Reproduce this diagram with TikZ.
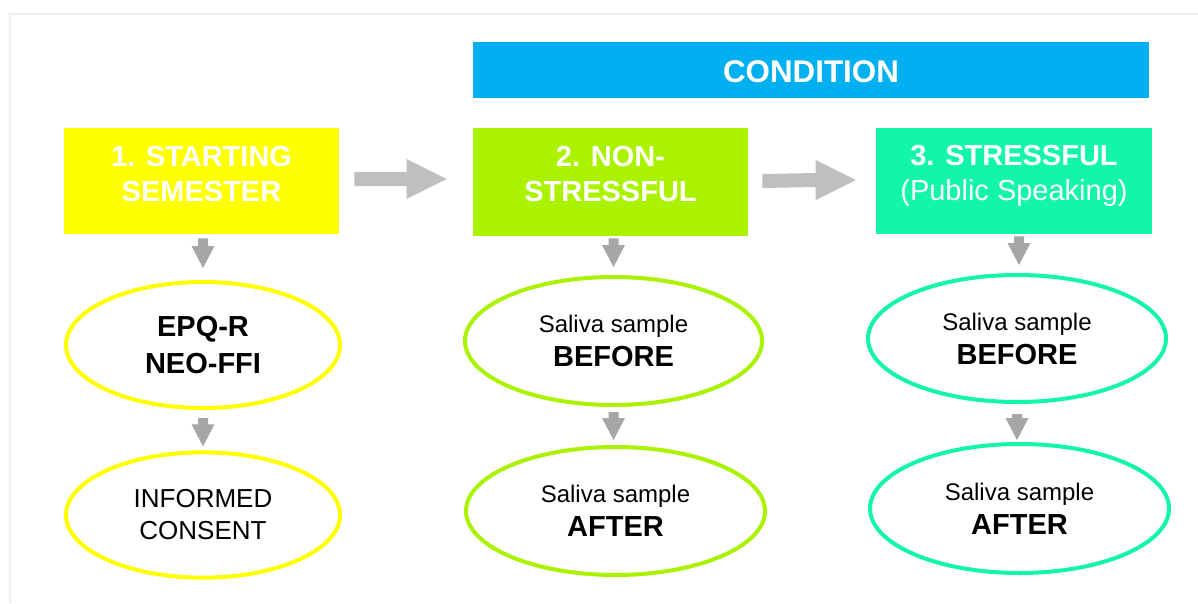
\documentclass[tikz,border=0pt]{standalone}
\usepackage{fontspec}
\setmainfont{Liberation Sans}
\usetikzlibrary{calc,shapes.geometric}
\definecolor{cyel}{HTML}{FFFF00}
\definecolor{cgrn}{HTML}{AAF200}
\definecolor{cteal}{HTML}{12F5AA}
\definecolor{cblue}{HTML}{00B0F0}
\definecolor{cbig}{HTML}{BFBFBF}
\definecolor{csmall}{HTML}{A6A6A6}
\definecolor{cframe}{HTML}{EEEEEE}
\newcommand\dnarrow[2]{%
  \fill[smallarr] ($(#1)+(-5,0)$) -- ($(#2)+(-5,-22)$) -- ($(#2)+(-11.5,-22)$) -- (#2)
    -- ($(#2)+(11.5,-22)$) -- ($(#2)+(5,-22)$) -- ($(#1)+(5,0)$) -- cycle;}
\newcommand\rtarrow[2]{%
  \fill[bigarr] ($(#1)+(0,-7)$) -- ($(#2)+(-40,-7)$) -- ($(#2)+(-40,-20)$) -- (#2)
    -- ($(#2)+(-40,20)$) -- ($(#2)+(-40,7)$) -- ($(#1)+(0,7)$) -- cycle;}
\tikzset{
  boxbase/.style={rectangle, inner sep=0pt, minimum width=206.5pt},
  titletext/.style={text=white, align=center, inner sep=0pt,
    font=\fontsize{21.75}{26.25}\selectfont},
  ovalbase/.style={ellipse, draw, line width=3pt, fill=white, inner sep=0pt,
    align=center, text=black},
  bigarr/.style={fill=cbig},
  smallarr/.style={fill=csmall},
}
\begin{document}
\begin{tikzpicture}[x=0.75pt,y=-0.75pt]
\useasboundingbox (0,0) rectangle (1198,603);
\draw[cframe, line width=1.5pt] (10,603) -- (10,14) -- (1198,14);

% condition bar
\node[rectangle, fill=cblue, minimum width=507pt, minimum height=42pt, inner sep=0pt] (cond) at (811,70) {};
\node[text=white, inner sep=0pt, font=\fontsize{23.5}{28}\selectfont\bfseries] (condt) at ($(cond.center)+(0,1.5)$) {CONDITION};

% top boxes
\node[boxbase, fill=cyel, minimum height=79.5pt] (b1) at (201.5,181) {};
\node[boxbase, fill=cgrn, minimum height=81pt] (b2) at (610.5,182) {};
\node[boxbase, fill=cteal, minimum width=207pt, minimum height=79.5pt] (b3) at (1014,181) {};
\node[titletext, font=\fontsize{21.75}{26.25}\selectfont\bfseries] (t1) at ($(b1.center)+(0,-7)$) {1. STARTING\\SEMESTER};
\node[titletext, font=\fontsize{21.75}{26.25}\selectfont\bfseries] (t2) at ($(b2.center)+(0,-8)$) {2. NON-\\STRESSFUL};
\node[titletext] (t3) at ($(b3.center)+(0,-5)$) {\textbf{3. STRESSFUL}\\(Public Speaking)};

% ellipses column 1
\node[ovalbase, draw=cyel, minimum width=205.5pt, minimum height=94.5pt,
  font=\fontsize{21.75}{27.75}\selectfont\bfseries] (e11) at (203,345) {EPQ-R\\NEO-FFI};
\node[ovalbase, draw=cyel, minimum width=205.5pt, minimum height=94pt,
  font=\fontsize{19.5}{24}\selectfont] (e12) at (203,515) {INFORMED\\CONSENT};

% ellipses column 2
\node[ovalbase, draw=cgrn, minimum width=222.75pt, minimum height=96pt,
  font=\fontsize{18}{25.5}\selectfont] (e21) at (613.5,341)
  {Saliva sample\\{\fontsize{21.75}{25.5}\selectfont\bfseries BEFORE}};
\node[ovalbase, draw=cgrn, minimum width=224.25pt, minimum height=96pt,
  font=\fontsize{18}{25.5}\selectfont] (e22) at (615.5,511)
  {Saliva sample\\{\fontsize{21.75}{25.5}\selectfont\bfseries AFTER}};

% ellipses column 3
\node[ovalbase, draw=cteal, minimum width=223.5pt, minimum height=95.25pt,
  font=\fontsize{18}{25.5}\selectfont] (e31) at (1017,338.5)
  {Saliva sample\\{\fontsize{21.75}{25.5}\selectfont\bfseries BEFORE}};
\node[ovalbase, draw=cteal, minimum width=224.25pt, minimum height=96.75pt,
  font=\fontsize{18}{25.5}\selectfont] (e32) at (1019.5,508.5)
  {Saliva sample\\{\fontsize{21.75}{25.5}\selectfont\bfseries AFTER}};

% horizontal arrows
\coordinate (a1s) at ($(b1.east)+(15,-2)$);
\coordinate (a1t) at ($(b2.west)+(-26,-3)$);
\rtarrow{a1s}{a1t}
\coordinate (a2s) at ($(b2.east)+(14,-1)$);
\coordinate (a2t) at ($(b3.west)+(-20,-1)$);
\rtarrow{a2s}{a2t}

% down arrows
\coordinate (s11) at ($(e11.north |- b1.south)+(0,4)$);
\coordinate (t11) at ($(e11.north)+(0,-12)$);
\dnarrow{s11}{t11}
\coordinate (s12) at ($(e11.south)+(0,8)$);
\coordinate (t12) at ($(e11.south |- e12.north)+(0,-4)$);
\dnarrow{s12}{t12}
\coordinate (s21) at ($(e21.north |- b2.south)+(0,2)$);
\coordinate (t21) at ($(e21.north)+(0,-8)$);
\dnarrow{s21}{t21}
\coordinate (s22) at ($(e21.south)+(0,5)$);
\coordinate (t22) at ($(e21.south |- e22.north)+(0,-5)$);
\dnarrow{s22}{t22}
\coordinate (s31) at ($(e31.north |- b3.south)+(2,2)$);
\coordinate (t31) at ($(e31.north)+(2,-8)$);
\dnarrow{s31}{t31}
\coordinate (s32) at ($(e31.south)+(0,10)$);
\coordinate (t32) at ($(e31.south |- e32.north)+(0,-2)$);
\dnarrow{s32}{t32}
\end{tikzpicture}
\end{document}
